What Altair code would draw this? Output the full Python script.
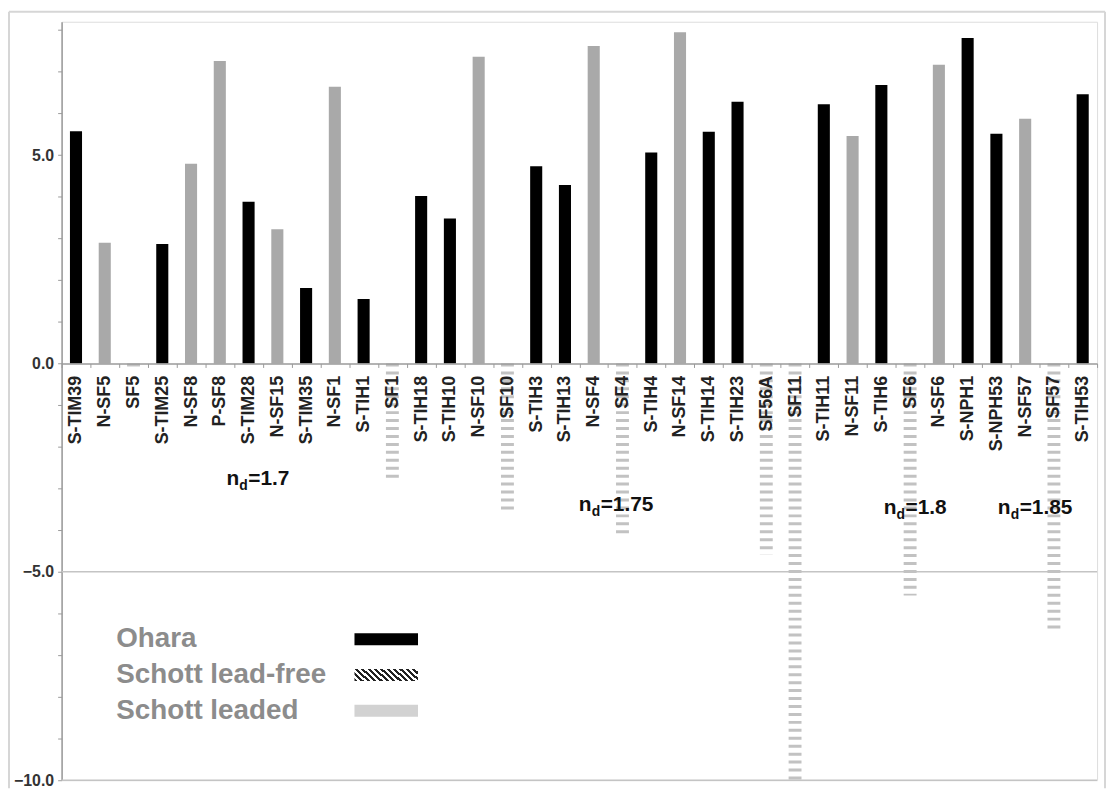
import altair as alt
import pandas as pd

# ---- data -------------------------------------------------------------
glasses = ["S-TIM39", "N-SF5", "SF5", "S-TIM25", "N-SF8", "P-SF8", "S-TIM28",
           "N-SF15", "S-TIM35", "N-SF1", "S-TIH1", "SF1", "S-TIH18", "S-TIH10",
           "N-SF10", "SF10", "S-TIH3", "S-TIH13", "N-SF4", "SF4", "S-TIH4",
           "N-SF14", "S-TIH14", "S-TIH23", "SF56A", "SF11", "S-TIH11", "N-SF11",
           "S-TIH6", "SF6", "N-SF6", "S-NPH1", "S-NPH53", "N-SF57", "SF57", "S-TIH53"]
values = [5.57, 2.90, -0.15, 2.87, 4.79, 7.26, 3.88,
          3.22, 1.81, 6.64, 1.55, -2.80, 4.02, 3.48,
          7.36, -3.55, 4.73, 4.28, 7.62, -4.12, 5.06,
          7.95, 5.56, 6.28, -4.58, -10.0, 6.22, 5.46,
          6.68, -5.57, 7.17, 7.81, 5.51, 5.87, -6.36, 6.46]
makers = ["Ohara", "Schott lead-free", "Schott leaded", "Ohara", "Schott lead-free",
          "Schott lead-free", "Ohara", "Schott lead-free", "Ohara", "Schott lead-free",
          "Ohara", "Schott leaded", "Ohara", "Ohara", "Schott lead-free", "Schott leaded",
          "Ohara", "Ohara", "Schott lead-free", "Schott leaded", "Ohara",
          "Schott lead-free", "Ohara", "Ohara", "Schott leaded", "Schott leaded",
          "Ohara", "Schott lead-free", "Ohara", "Schott leaded", "Schott lead-free",
          "Ohara", "Ohara", "Schott lead-free", "Schott leaded", "Ohara"]
legend_names = ["Ohara", "Schott lead-free", "Schott leaded"]
nd_labels = ["=1.7", "=1.75", "=1.8", "=1.85"]
gridline_values = [-5, -10]
y_ticks = list(range(-10, 9))

df = pd.DataFrame({"glass": glasses, "value": values, "maker": makers})
df["zero"] = 0.0
solid = df[df["maker"] != "Schott leaded"]
leaded = df[df["maker"] == "Schott leaded"]

W, H = 1043, 764
FONT = "Liberation Sans"

x_enc = alt.X("glass:N", sort=glasses, title=None,
              scale=alt.Scale(paddingInner=0, paddingOuter=0),
              axis=alt.Axis(orient="bottom", offset=-419.8, labelAngle=270,
                            labelAlign="right", labelBaseline="middle",
                            labelPadding=8, labelFontSize=18, labelFont=FONT,
                            labelFontWeight="bold", labelColor="#222222",
                            labelLimit=300, domainColor="#9a9a9a", domainWidth=1.5,
                            tickColor="#9a9a9a", tickSize=4, tickBand="extent",
                            grid=False, zindex=1))
y_scale = alt.Scale(domain=[-10, 8.2], nice=False, zero=False)
y_axis = alt.Axis(values=y_ticks, title=None, grid=False,
                  labelExpr="datum.value % 5 == 0 ? format(datum.value, '.1f') : ''",
                  labelOverlap=False, labelFlush=False,
                  labelFontSize=16, labelFont=FONT, labelFontWeight="bold",
                  labelColor="#333333", labelPadding=4, domainColor="#9a9a9a",
                  domainWidth=1.5, tickColor="#9a9a9a", tickSize=4)

grid = alt.Chart(pd.DataFrame({"v": gridline_values})).mark_rule(
    color="#c4c4c4", strokeWidth=1.5).encode(y=alt.Y("v:Q", scale=y_scale, axis=y_axis))

bars = alt.Chart(solid).mark_bar(width=alt.RelativeBandSize(0.42)).encode(
    x=x_enc,
    y=alt.Y("value:Q", scale=y_scale, axis=y_axis),
    color=alt.Color("maker:N", legend=None,
                    scale=alt.Scale(domain=["Ohara", "Schott lead-free"],
                                    range=["#000000", "#a9a9a9"])),
)

leaded_bars = alt.Chart(leaded).mark_rule(
    strokeWidth=13, strokeDash=[3, 5], color="#c2c2c2", strokeCap="butt"
).encode(
    x=alt.X("glass:N", sort=glasses),
    y=alt.Y("zero:Q", scale=y_scale, axis=y_axis),
    y2="value:Q",
)

# ---- custom legend ----------------------------------------------------
legend_y = [622, 658, 694]
legend_layers = []
for name, ly in zip(legend_names, legend_y):
    legend_layers.append(
        alt.Chart(pd.DataFrame({"t": [name]})).mark_text(
            align="left", baseline="middle", fontSize=28, font=FONT,
            fontWeight="bold", color="#8c8c8c"
        ).encode(text="t:N", x=alt.value(55), y=alt.value(ly))
    )

n_stripes = 12
stops = []
for i in range(n_stripes):
    a = i / n_stripes
    b = (i + 0.5) / n_stripes
    c = (i + 1) / n_stripes
    stops += [alt.GradientStop(color="#222222", offset=a),
              alt.GradientStop(color="#222222", offset=b),
              alt.GradientStop(color="#ffffff", offset=b),
              alt.GradientStop(color="#ffffff", offset=c)]
hatch = alt.LinearGradient(gradient="linear", stops=stops,
                           x1=0, y1=1, x2=1.1555, y2=0.7653)

sw_df = pd.DataFrame({"t": [0]})
swatches = [
    alt.Chart(sw_df).mark_rect(color="#000000").encode(
        x=alt.value(295), x2=alt.value(359), y=alt.value(616), y2=alt.value(628)),
    alt.Chart(sw_df).mark_rect(fill=hatch).encode(
        x=alt.value(295), x2=alt.value(359), y=alt.value(652), y2=alt.value(664)),
    alt.Chart(sw_df).mark_rect(color="#d2d2d2").encode(
        x=alt.value(295), x2=alt.value(359), y=alt.value(688), y2=alt.value(700)),
]

# ---- n_d annotations ---------------------------------------------------
nd_pos = [(166, 467), (521, 493), (828, 496), (943, 496)]
nd_layers = []
for lab, (ax, ay) in zip(nd_labels, nd_pos):
    base = alt.Chart(pd.DataFrame({"t": [lab]}))
    nd_layers.append(base.mark_text(align="left", baseline="alphabetic", fontSize=21,
                                    font=FONT, fontWeight="bold", color="#111111",
                                    text="n").encode(x=alt.value(ax), y=alt.value(ay)))
    nd_layers.append(base.mark_text(align="left", baseline="alphabetic", fontSize=14,
                                    font=FONT, fontWeight="bold", color="#111111",
                                    text="d").encode(x=alt.value(ax + 13), y=alt.value(ay + 5)))
    nd_layers.append(base.mark_text(align="left", baseline="alphabetic", fontSize=21,
                                    font=FONT, fontWeight="bold", color="#111111"
                                    ).encode(text="t:N", x=alt.value(ax + 22), y=alt.value(ay)))

# ---- outer frame -------------------------------------------------------
fr = pd.DataFrame({"t": [0]})
frame = [
    alt.Chart(fr).mark_rule(color="#d6d6d6", strokeWidth=2).encode(
        x=alt.value(-53), x2=alt.value(1051), y=alt.value(-10)),
    alt.Chart(fr).mark_rule(color="#d6d6d6", strokeWidth=2).encode(
        x=alt.value(-53), y=alt.value(-10), y2=alt.value(772)),
    alt.Chart(fr).mark_rule(color="#d6d6d6", strokeWidth=2).encode(
        x=alt.value(1051), y=alt.value(-10), y2=alt.value(772)),
]

chart = alt.layer(
    *frame, grid, leaded_bars, bars, *legend_layers, *swatches, *nd_layers
).properties(
    width=W, height=H,
    autosize=alt.AutoSizeParams(type="none"),
    padding={"left": 54, "top": 11, "right": 10, "bottom": 8},
).configure_view(stroke=None).configure(background="white")

chart.save("out.html", embed_options={"renderer": "svg", "actions": False})
